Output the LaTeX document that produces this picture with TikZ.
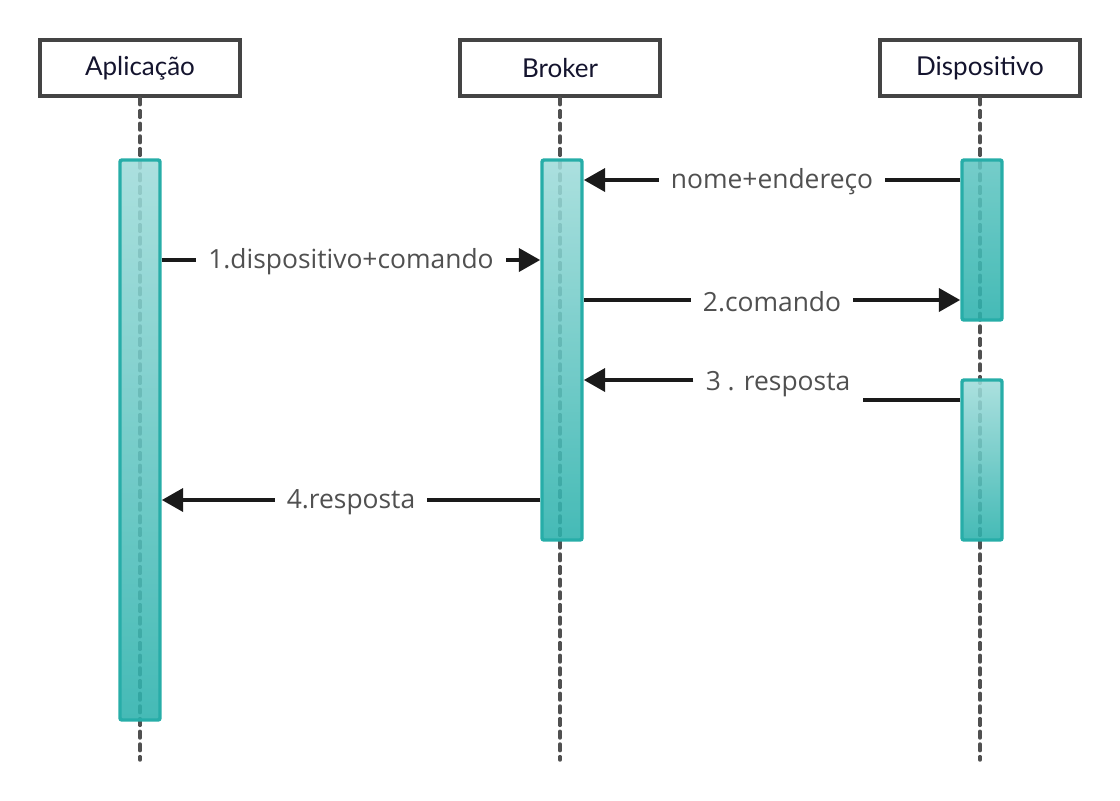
\documentclass[tikz,border=0pt]{standalone}
\usepackage{fontspec}
\setmainfont{Open Sans}
\newfontfamily\hdrfont{Lato}
\usetikzlibrary{arrows.meta}

\definecolor{tealedge}{HTML}{27ADA8}
\definecolor{teallight}{HTML}{A0DCDA}
\definecolor{tealmid}{HTML}{62C6C2}
\definecolor{tealdark}{HTML}{2BB1AC}
\definecolor{lifegray}{HTML}{505050}
\definecolor{boxgray}{HTML}{444444}
\definecolor{msgblack}{HTML}{1A1A1A}
\definecolor{lbltxt}{HTML}{505050}
\definecolor{hdrtxt}{HTML}{14142E}

\tikzset{every picture/.style={line width=0.75pt},
  actor/.style={draw=boxgray, line width=3pt, fill=white, minimum width=150pt, minimum height=42pt, inner sep=0pt, text=hdrtxt, font=\hdrfont\fontsize{19.5}{22}\selectfont},
  life/.style={draw=lifegray, line width=2.6pt, dash pattern=on 5pt off 4.5pt, line cap=round},
  bar/.style={draw=tealedge, line width=2.6pt, top color=teallight, bottom color=tealdark, fill opacity=0.88, rounded corners=1.5pt, minimum width=30pt, inner sep=0pt},
  msgline/.style={draw=msgblack, line width=3.4pt},
  msg/.style={msgline, -{Triangle[length=16pt,width=17pt]}},
  lbl/.style={fill=white, text=lbltxt, inner xsep=9pt, inner ysep=3pt, yshift=-1.5pt, font=\fontsize{19.8}{23}\selectfont}
}

\begin{document}
\begin{tikzpicture}[x=0.75pt,y=0.75pt,yscale=-1]
	\useasboundingbox (0,0) rectangle (1120,800);
	
	%Actors
	\node[actor] (app) at (140,68) {Aplicação};
	\node[actor] (brk) at (560,68) {Broker};
	\node[actor] (dsp) at (980,68) {Dispositivo};
	
	%Lifelines
	\coordinate (append) at (140,760);
	\coordinate (brkend) at (560,760);
	\coordinate (dspend) at (980,760);
	\draw[life] (app.south) -- (append);
	\draw[life] (brk.south) -- (brkend);
	\draw[life] (dsp.south) -- (dspend);
	
	%Activation bars
	\node[bar, minimum height=420pt] (appbar) at (140,440) {};
	\node[bar, minimum height=285pt] (brkbar) at (562,350) {};
	\node[bar, top color=tealmid, minimum height=120pt] (dspbara) at (982,240) {};
	\node[bar, minimum height=120pt] (dspbarb) at (982,460) {};
	
	%Messages
	\draw[msg] (dspbara.west |- 0,180) -- (brkbar.east |- 0,180) node[lbl, midway] {nome+endereço};
	\draw[msg] (appbar.east |- 0,260) -- (brkbar.west |- 0,260) node[lbl, midway] {1.dispositivo+comando};
	\draw[msg] (brkbar.east |- 0,300) -- (dspbara.west |- 0,300) node[lbl, midway] {2.comando};
	% Text Node
	\node[lbl] (resp) at (778,382) {3 . resposta};
	\draw[msgline] (dspbarb.west |- 0,400) -- (resp.east |- 0,400);
	\draw[msg] (resp.west |- 0,380) -- (brkbar.east |- 0,380);
	\draw[msg] (brkbar.west |- 0,500) -- (appbar.east |- 0,500) node[lbl, midway] {4.resposta};
	
\end{tikzpicture}
\end{document}
